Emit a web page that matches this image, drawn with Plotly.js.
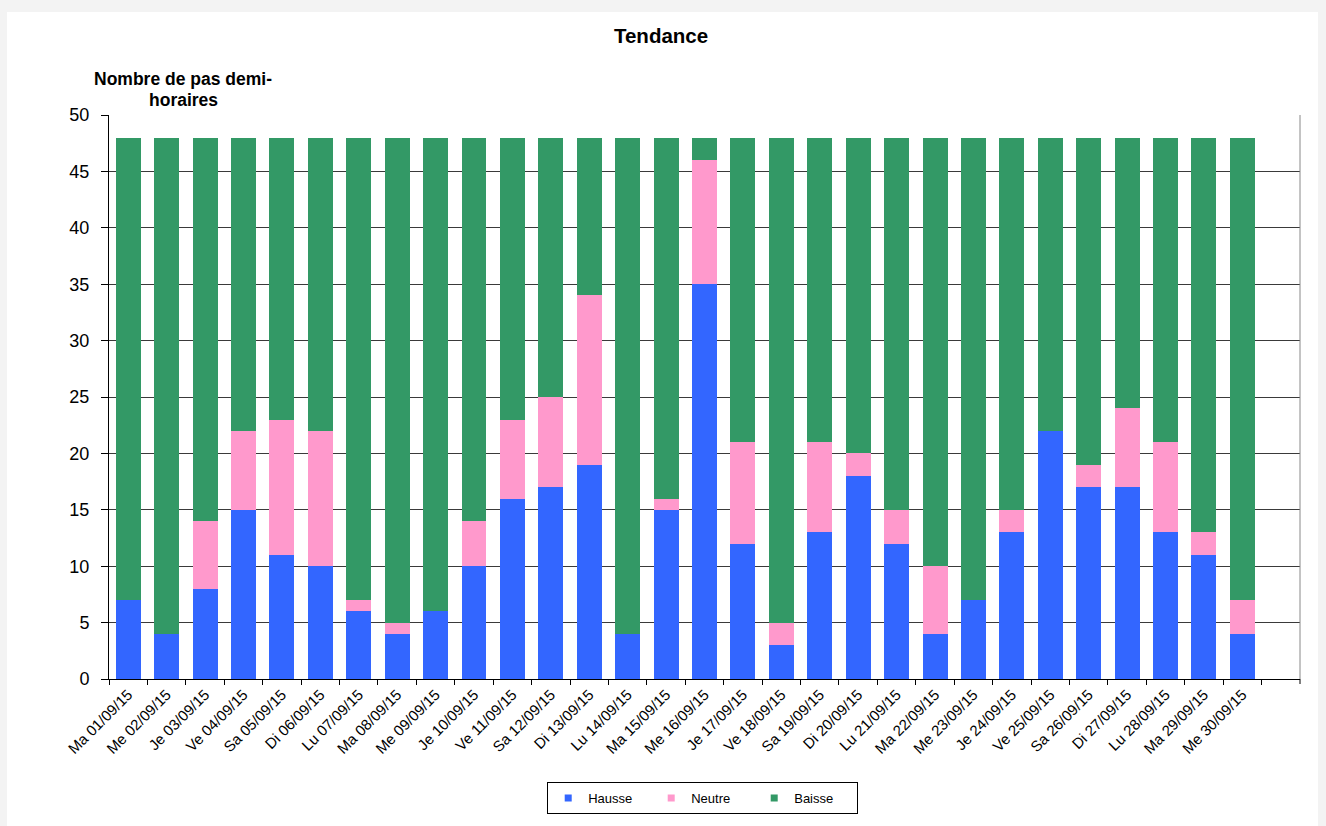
<!DOCTYPE html>
<html>
<head>
<meta charset="utf-8">
<script src="https://cdn.plot.ly/plotly-3.0.1.min.js"></script>
<style>
  html, body { margin: 0; padding: 0; background: #f3f3f3; width: 1326px; height: 826px; overflow: hidden; }
  #chart { position: absolute; left: 7px; top: 12px; width: 1311px; height: 814px; background: #fff; }
</style>
</head>
<body>
<div id="chart"></div>
<script>
const categories = ["Ma 01/09/15","Me 02/09/15","Je 03/09/15","Ve 04/09/15","Sa 05/09/15","Di 06/09/15","Lu 07/09/15","Ma 08/09/15","Me 09/09/15","Je 10/09/15","Ve 11/09/15","Sa 12/09/15","Di 13/09/15","Lu 14/09/15","Ma 15/09/15","Me 16/09/15","Je 17/09/15","Ve 18/09/15","Sa 19/09/15","Di 20/09/15","Lu 21/09/15","Ma 22/09/15","Me 23/09/15","Je 24/09/15","Ve 25/09/15","Sa 26/09/15","Di 27/09/15","Lu 28/09/15","Ma 29/09/15","Me 30/09/15"];
const hausse = [7,4,8,15,11,10,6,4,6,10,16,17,19,4,15,35,12,3,13,18,12,4,7,13,22,17,17,13,11,4];
const neutre = [0,0,6,7,12,12,1,1,0,4,7,8,15,0,1,11,9,2,8,2,3,6,0,2,0,2,7,8,2,3];
const baisse = [41,44,34,26,25,26,41,43,42,34,25,23,14,44,32,2,27,43,27,28,33,38,41,33,26,29,24,27,35,41];
const seriesNames = ["Hausse","Neutre","Baisse"];
const seriesColors = ["#3366FF","#FF99CC","#339966"];
const yTicks = [0,5,10,15,20,25,30,35,40,45,50];

const F = "Arial, 'Liberation Sans', sans-serif";
const values = [hausse, neutre, baisse];
const traces = [];
values.forEach((v, i) => {
  traces.push({type:"bar", name:seriesNames[i], x:categories, y:v, marker:{color:seriesColors[i]}, showlegend:false, legendgroup:seriesNames[i]});
});
// legend-only entries (small square keys, no marks on the plot)
values.forEach((v, i) => {
  traces.push({type:"scatter", mode:"markers", name:seriesNames[i], x:[null], y:[null], legendgroup:seriesNames[i],
               marker:{symbol:"square", size:7, color:seriesColors[i]}, showlegend:true, hoverinfo:"skip"});
});

const L = 102, T = 103, PW = 1191, PH = 564;
const layout = {
  width:1311, height:814,
  paper_bgcolor:"#ffffff", plot_bgcolor:"#ffffff",
  margin:{l:L, r:18, t:T, b:147},
  barmode:"stack", bargap:0.35,
  showlegend:true,
  font:{family:F, color:"#000"},
  title:{text:"<b>Tendance</b>", x:0.4989, xref:"container", xanchor:"center", y:1-24/814, yref:"container", yanchor:"middle",
         font:{size:20.5, family:F, color:"#000"}},
  xaxis:{type:"category", range:[-0.5,30.5], tickson:"boundaries", ticks:"outside", ticklen:5, tickcolor:"#000",
         showline:true, linecolor:"#000", linewidth:1, showgrid:false, tickangle:-45,
         tickfont:{size:15, family:F, color:"#000"}},
  yaxis:{range:[0,50], tickmode:"array", tickvals:yTicks, ticktext:yTicks.map(String), ticks:"outside", ticklen:7, tickcolor:"#000",
         ticklabelstandoff:8,
         showline:true, linecolor:"#000", linewidth:1, showgrid:true, gridcolor:"#3a3a3a", gridwidth:1, zeroline:false,
         tickfont:{size:18, family:F, color:"#000"}},
  legend:{orientation:"h", x:0.4985, xanchor:"center", y:-(770-667)/PH, yanchor:"top", bordercolor:"#000", borderwidth:1,
          bgcolor:"#fff", font:{size:13, family:F, color:"#000"}, entrywidth:58, itemwidth:30, traceorder:"normal"},
  annotations:[
    {text:"<b>Nombre de pas demi-</b>", xref:"paper", yref:"paper", x:(176-L)/PW, y:1+(T-(73-12+6))/PH,
     xanchor:"center", yanchor:"middle", showarrow:false, font:{size:17.5, family:F, color:"#000"}},
    {text:"<b>horaires</b>", xref:"paper", yref:"paper", x:(176-L)/PW, y:1+(T-(94-12+6))/PH,
     xanchor:"center", yanchor:"middle", showarrow:false, font:{size:17.5, family:F, color:"#000"}}
  ],
  shapes:[
    {type:"line", xref:"paper", yref:"paper", x0:1, x1:1, y0:0, y1:1, line:{color:"#888", width:1}},
    {type:"line", xref:"paper", yref:"paper", ysizemode:"pixel", yanchor:0, x0:1, x1:1, y0:0, y1:-5, line:{color:"#000", width:1}}
  ]
};
Plotly.newPlot("chart", traces, layout, {displayModeBar:false, staticPlot:true});
</script>
</body>
</html>
